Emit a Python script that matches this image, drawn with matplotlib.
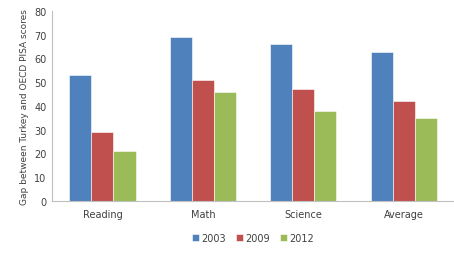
import numpy as np
import matplotlib.pyplot as plt

subjects = ["Reading", "Math", "Science", "Average"]
years = ["2003", "2009", "2012"]
gap_2003 = [53, 69, 66, 62.7]
gap_2009 = [29, 51, 47, 42.3]
gap_2012 = [21, 46, 38, 35]
colors = ["#4F81BD", "#C0504D", "#9BBB59"]

fig = plt.figure(figsize=(4.54, 2.55), dpi=100)
ax = fig.add_axes([0.115, 0.208, 0.885, 0.745])

x = np.arange(len(subjects))
w = 0.22
for i, (vals, yr) in enumerate(zip([gap_2003, gap_2009, gap_2012], years)):
    ax.bar(x + (i - 1) * w, vals, width=w, color=colors[i], label=yr,
           edgecolor="white", linewidth=0.4)

ax.set_xlim(-0.5, len(subjects) - 0.5)
ax.set_ylim(0, 80)
ax.set_yticks(range(0, 81, 10))
ax.set_xticks(x, subjects)
ax.tick_params(axis="both", length=0, labelsize=7, colors="#404040", pad=4)
ax.tick_params(axis="x", pad=6)
for s in ["top", "right"]:
    ax.spines[s].set_visible(False)
for s in ["left", "bottom"]:
    ax.spines[s].set_color("#BFBFBF")
    ax.spines[s].set_linewidth(0.8)
ax.set_ylabel("Gap between Turkey and OECD PISA scores", fontsize=6.5, color="#404040")

ax.legend(loc="upper center", bbox_to_anchor=(0.5, -0.12), ncol=3, frameon=False,
          fontsize=7, handlelength=0.7, handleheight=0.7, columnspacing=1.0,
          handletextpad=0.3, labelcolor="#404040")

fig.savefig("out.png", dpi=100)
